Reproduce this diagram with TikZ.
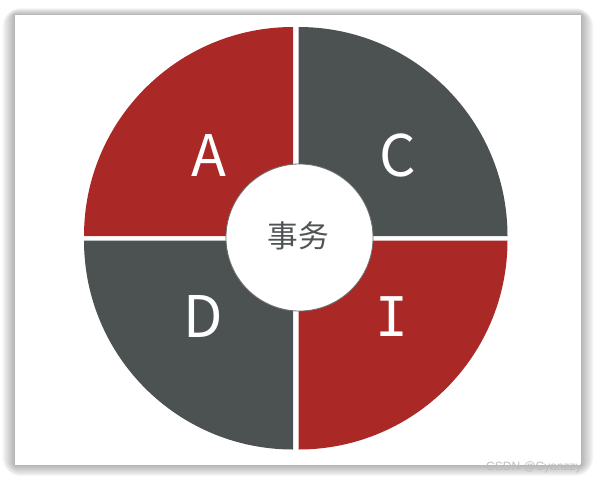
\documentclass[tikz,border=0pt]{standalone}
\usepackage{fontspec}
\newfontfamily\cjkfont{Noto Sans CJK SC}
\newfontfamily\monofont{DejaVu Sans Mono}
\setsansfont{Liberation Sans}
\definecolor{quadred}{RGB}{170,41,38}
\definecolor{quadgray}{RGB}{76,82,82}
\definecolor{hubtext}{RGB}{80,84,84}
\tikzset{every picture/.style={line width=0.75pt}}
\tikzset{
  letter/.style={text=white, font=\cjkfont\fontsize{43}{43}\selectfont},
  quad/.style={draw=none}
}

\begin{document}
\begin{tikzpicture}[x=0.75pt,y=0.75pt,yscale=-1,xscale=1]
	\useasboundingbox (0,0) rectangle (596,483);

	%Shape: Shadow
	\foreach \i in {1,...,14}
		\fill[black, opacity=0.022, rounded corners=\i] (15-0.9*\i,15-0.5*\i) rectangle (581+0.9*\i,465+0.8*\i);
	%Shape: Rectangle [card]
	\fill[white] (15,15) rectangle (581,465);

	%Shape: Sector [A]
	\fill[quad, quadred] (293,236) -- ++(180:209) arc[start angle=180, end angle=270, radius=209] -- cycle;
	%Shape: Sector [C]
	\fill[quad, quadgray] (298.5,236) -- ++(270:209) arc[start angle=270, end angle=360, radius=209] -- cycle;
	%Shape: Sector [I]
	\fill[quad, quadred] (298.5,240.5) -- ++(0:209) arc[start angle=0, end angle=90, radius=209] -- cycle;
	%Shape: Sector [D]
	\fill[quad, quadgray] (293,240.5) -- ++(90:209) arc[start angle=90, end angle=180, radius=209] -- cycle;

	%Shape: Circle [hub]
	\draw[draw={rgb, 255:red, 110; green, 110; blue, 110}, line width=0.6pt, fill=white] (299.5,237.5) circle (73.5);

	% Text Node
	\node[letter] (a) at (209,155) {A};
	% Text Node
	\node[letter] (c) at (398,155) {C};
	% Text Node
	\node[letter] (d) at (203,316) {D};
	% Text Node
	\node[letter, font=\monofont\fontsize{41}{41}\selectfont] (i) at (392,317) {I};
	% Text Node
	\node[text=hubtext, font=\cjkfont\fontsize{23}{23}\selectfont] (hub) at (298,236) {事务};
	% Text Node
	\node[text={rgb, 255:red, 190; green, 190; blue, 190}, font=\sffamily\fontsize{9}{9}\selectfont, inner sep=0pt] (mark) at (534,467) {CSDN @Cyanzzy};

\end{tikzpicture}
\end{document}
